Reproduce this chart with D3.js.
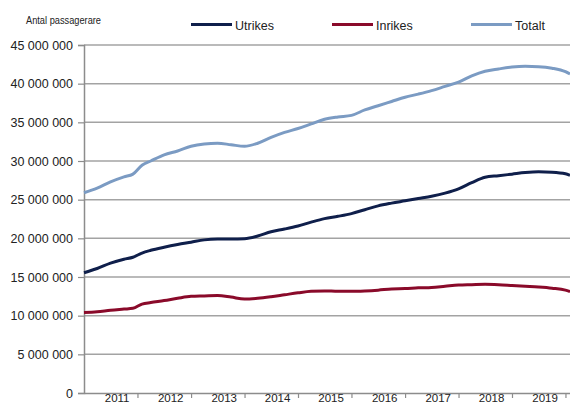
<!DOCTYPE html>
<html>
<head>
<meta charset="utf-8">
<script src="https://cdn.jsdelivr.net/npm/d3@7"></script>
<style>
body{margin:0;background:#fff;}
text{font-family:"Liberation Sans Narrow","Arial Narrow","Liberation Sans",Arial,sans-serif;}
</style>
</head>
<body>
<svg id="chart" width="570" height="405"></svg>
<script>
var months=[0,3,6,9,11,13,15,18,21,24,27,30,33,36,39,42,45,48,51,54,57,60,63,66,69,72,75,78,81,84,87,90,93,96,99,102,105,108,109];
// rolling passenger counts, millions
var utrikes=[15.55,16.1,16.8,17.3,17.55,18.1,18.45,18.85,19.2,19.5,19.8,19.9,19.9,19.95,20.3,20.85,21.2,21.6,22.1,22.55,22.85,23.2,23.7,24.2,24.55,24.85,25.15,25.45,25.85,26.4,27.2,27.9,28.1,28.3,28.5,28.6,28.55,28.35,28.15];
var inrikes=[10.4,10.5,10.7,10.85,10.95,11.5,11.7,11.95,12.25,12.5,12.55,12.6,12.4,12.15,12.25,12.45,12.7,12.95,13.15,13.2,13.15,13.15,13.2,13.3,13.45,13.5,13.6,13.65,13.8,13.95,14.0,14.05,14.0,13.9,13.8,13.7,13.55,13.3,13.1];
var totalt=[25.9,26.5,27.3,27.95,28.3,29.45,30.0,30.8,31.3,31.9,32.2,32.3,32.1,31.9,32.3,33.05,33.7,34.2,34.8,35.4,35.7,35.9,36.6,37.15,37.7,38.25,38.65,39.1,39.65,40.2,41.0,41.6,41.9,42.15,42.25,42.2,42.0,41.55,41.25];
var years=[2011,2012,2013,2014,2015,2016,2017,2018,2019];
var yTicks=[0,5,10,15,20,25,30,35,40,45];
var seriesNames=["Utrikes","Inrikes","Totalt"];
var seriesColors=["#0f1f4b","#8a0a2a","#7b9bc3"];

var svg=d3.select("#chart");
var margin={left:84,right:0,top:45,bottom:12};
var W=570,H=405;

function monthDate(m){return new Date(2011,m,1);}

var x=d3.scaleTime()
    .domain([monthDate(0),monthDate(109)])
    .range([margin.left,W-margin.right]);
var y=d3.scaleLinear()
    .domain([0,45])
    .range([H-margin.bottom,margin.top]);

var fmt=function(v){
    if(v===0) return "0";
    return d3.format(",")(v*1e6).replace(/,/g," ");
};

// gridlines
svg.append("g")
    .selectAll("line")
    .data(yTicks.filter(function(d){return d>0;}))
    .enter().append("line")
    .attr("x1",margin.left).attr("x2",W)
    .attr("y1",function(d){return y(d)}).attr("y2",function(d){return y(d)})
    .attr("stroke","#a3a3a3").attr("stroke-width",1.5);

// y axis
var yAxis=svg.append("g")
    .attr("transform","translate("+margin.left+",0)")
    .call(d3.axisLeft(y).tickValues(yTicks).tickFormat(fmt).tickSize(6).tickPadding(5));
yAxis.select(".domain").attr("stroke","#8c8c8c").attr("stroke-width",1.5);
yAxis.selectAll(".tick line").attr("stroke","#8c8c8c").attr("stroke-width",1.2);
yAxis.selectAll("text").attr("font-size",12.5).attr("fill","#222")
    .style("font-family","'Liberation Sans Narrow','Arial Narrow','Liberation Sans',sans-serif");

// x axis, ticks at year boundaries
var xAxis=svg.append("g")
    .attr("transform","translate(0,"+y(0)+")")
    .call(d3.axisBottom(x).tickValues(d3.range(2012,2021).map(function(yr){return new Date(yr,0,1)})).tickFormat("").tickSize(5).tickSizeOuter(0));
xAxis.select(".domain").attr("stroke","#8c8c8c").attr("stroke-width",1.5);
xAxis.selectAll(".tick line").attr("stroke","#8c8c8c").attr("stroke-width",1.2);

svg.append("g")
    .selectAll("text")
    .data(years)
    .enter().append("text")
    .attr("x",function(d){return x(new Date(d,7,15))})
    .attr("y",H-3.5)
    .attr("text-anchor","middle")
    .attr("font-size",11.5)
    .attr("fill","#222")
    .text(function(d){return d});

// lines
var data=[utrikes,inrikes,totalt];
var line=d3.line()
    .x(function(d,i){return x(monthDate(months[i]))})
    .y(function(d){return y(d)})
    .curve(d3.curveMonotoneX);

svg.append("g")
    .selectAll("path")
    .data(data)
    .enter().append("path")
    .attr("d",line)
    .attr("fill","none")
    .attr("stroke",function(d,i){return seriesColors[i]})
    .attr("stroke-width",3)
    .attr("stroke-linejoin","round");

// axis title
svg.append("text")
    .attr("x",26).attr("y",23.5)
    .attr("font-size",10.5)
    .attr("fill","#222")
    .attr("textLength",75)
    .attr("lengthAdjust","spacingAndGlyphs")
    .text("Antal passagerare");

// legend
var legendX=[191,332,471];
var leg=svg.append("g")
    .selectAll("g")
    .data(seriesNames)
    .enter().append("g")
    .attr("transform",function(d,i){return "translate("+legendX[i]+",24.5)"});
leg.append("line")
    .attr("x1",0).attr("x2",41)
    .attr("stroke",function(d,i){return seriesColors[i]})
    .attr("stroke-width",3);
leg.append("text")
    .attr("x",44).attr("y",5)
    .attr("font-size",12.5)
    .attr("fill","#222")
    .text(function(d){return d});
</script>
</body>
</html>
